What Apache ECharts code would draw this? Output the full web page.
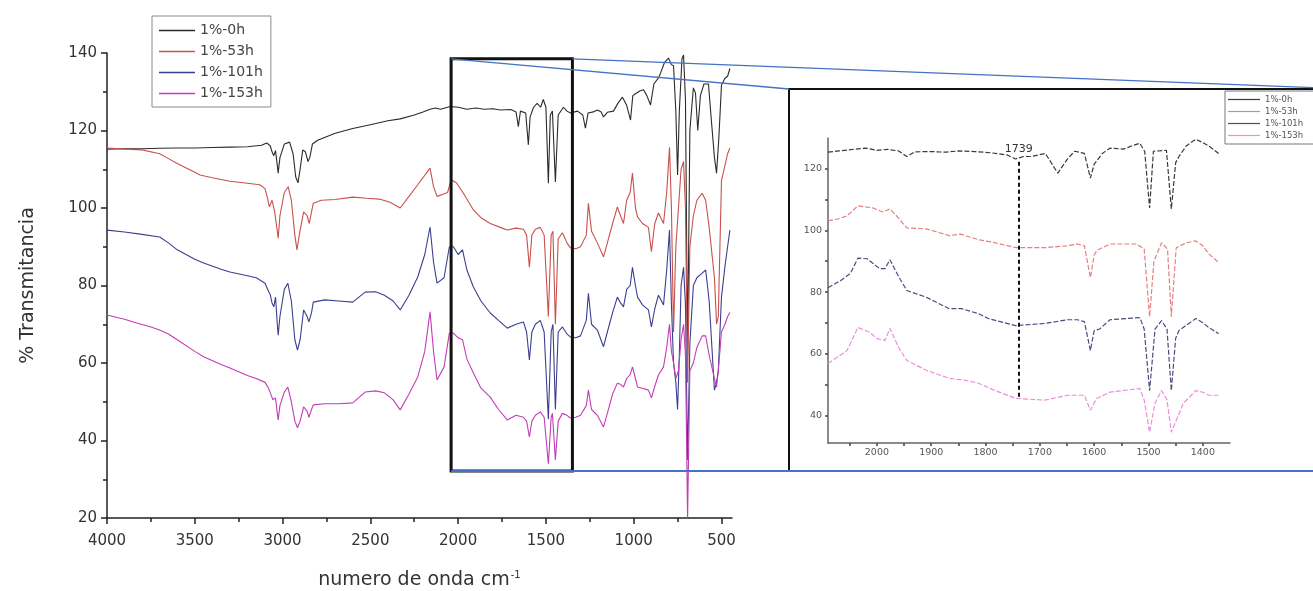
<!DOCTYPE html>
<html><head><meta charset="utf-8">
<script src="https://cdn.jsdelivr.net/npm/echarts@6/dist/echarts.min.js"></script>
<style>html,body{margin:0;padding:0;background:#fff}#c{width:1313px;height:591px}</style>
</head><body><div id="c"></div>
<script>
// ---------- DATA ----------
const SERIES_NAMES = ['1%-0h', '1%-53h', '1%-101h', '1%-153h'];
const MAIN_X_TICKS = [4000, 3500, 3000, 2500, 2000, 1500, 1000, 500];
const MAIN_X_MINOR = [3750, 3250, 2750, 2250, 1750, 1250, 750];
const INSET_X_LABELS = [2000, 1900, 1800, 1700, 1600, 1500, 1400];
const INSET_X_TICKS = [2050, 2000, 1950, 1900, 1850, 1800, 1750, 1700, 1650, 1600, 1550, 1500, 1450, 1400];
const INSET_Y_LABELS = [40, 60, 80, 100, 120];
const INSET_Y_TICKS = [40, 50, 60, 70, 80, 90, 100, 110, 120];
const ZOOM_X = [2040, 1349];      // region enlarged in inset (cm-1)
const ZOOM_Y = [32.1, 138.5];     // region enlarged in inset (% T)
const PEAK_1739 = [1739, 46, 123.2];

const main0h = [[4000,115.2],[3900,115.3],[3800,115.3],[3700,115.4],[3600,115.5],[3500,115.5],[3400,115.6],[3300,115.7],[3200,115.8],[3120,116.2],[3090,116.8],[3070,116.0],[3060,114.5],[3050,113.5],[3040,114.8],[3030,111],[3025,109],[3015,113],[2990,116.5],[2960,117],[2940,114],[2925,108],[2912,106.5],[2900,110],[2885,115],[2870,114.5],[2855,112],[2845,113],[2830,116.5],[2800,117.5],[2700,119.3],[2600,120.5],[2500,121.5],[2400,122.5],[2330,123],[2250,124],[2200,124.8],[2160,125.5],[2130,125.8],[2100,125.5],[2045,126.2],[2000,126],[1950,125.5],[1900,125.8],[1850,125.5],[1800,125.6],[1760,125.3],[1700,125.4],[1670,124.8],[1657,121],[1645,125],[1615,124.5],[1600,116.3],[1590,123.5],[1570,126],[1550,127],[1530,126],[1515,128],[1500,126],[1486,106.4],[1475,124],[1463,125],[1446,106.7],[1430,124],[1400,126],[1380,125],[1360,124.5],[1320,125],[1290,124],[1275,120.6],[1260,124.5],[1230,124.8],[1207,125.3],[1185,124.8],[1172,123.5],[1150,124.7],[1115,125],[1090,127],[1064,128.6],[1040,126.5],[1018,122.7],[1005,129],[990,129.5],[965,130.2],[944,130.5],[925,129],[904,126.6],[885,132],[860,133.5],[847,134.8],[825,137.5],[802,138.7],[785,137],[773,136.7],[760,125],[750,108.5],[740,125],[725,138.5],[716,139.5],[705,128],[693,62],[680,120],[660,131],[648,129.7],[635,120],[620,129],[600,132],[590,132.5],[574,132],[560,124],[540,113],[528,109],[515,118],[500,131.7],[480,133.5],[465,134],[452,136]];

const main53h = [[4000,115.5],[3900,115.2],[3800,115],[3700,114],[3660,113],[3600,111.5],[3500,109.2],[3470,108.5],[3400,107.8],[3300,106.9],[3200,106.4],[3130,106],[3100,105],[3088,103],[3075,100.3],[3060,102],[3045,99],[3030,94],[3025,92.2],[3015,98],[2990,104],[2968,105.5],[2950,102],[2930,93],[2918,89.2],[2905,93],[2880,99],[2860,98],[2848,96],[2835,99],[2825,101.2],[2780,102],[2700,102.2],[2600,102.8],[2520,102.5],[2450,102.3],[2387,101.5],[2330,100],[2280,103],[2230,106],[2160,110.3],[2140,105.5],[2120,103],[2090,103.5],[2060,104],[2040,107.3],[2010,106.5],[1970,103.8],[1913,99.5],[1870,97.5],[1817,96],[1760,95],[1720,94.3],[1670,94.8],[1628,94.5],[1610,93],[1594,84.7],[1580,93],[1560,94.5],[1532,95],[1510,93],[1486,72],[1470,93],[1460,94],[1446,70],[1430,92],[1406,93.6],[1380,91],[1360,89.7],[1330,89.5],[1303,90],[1270,93],[1258,101.2],[1240,94],[1207,91],[1172,87.4],[1150,91],[1120,96],[1093,100.3],[1075,98],[1058,96],[1040,102],[1020,104],[1007,109],[990,100],[978,97.7],[950,96],[916,95],[899,88.7],[880,96],[859,98.7],[830,96],[812,104],[796,115.7],[785,100],[773,68],[760,90],[745,100],[730,110],[716,112],[705,100],[693,55],[680,90],[660,98],[640,102],[610,103.8],[590,102],[570,95],[540,82],[528,70],[518,72],[500,107],[480,111],[465,114],[452,115.5]];

const main101h = [[4000,94.3],[3900,93.8],[3800,93.2],[3700,92.5],[3650,91],[3600,89.2],[3500,86.8],[3450,85.8],[3350,84.2],[3300,83.5],[3200,82.5],[3150,82],[3100,80.6],[3080,78.5],[3070,77.6],[3060,75.5],[3050,74.5],[3040,77],[3030,70],[3025,67.2],[3015,72],[2990,79],[2970,80.6],[2950,76],[2930,66],[2915,63.3],[2900,66],[2880,73.7],[2860,72],[2850,70.6],[2835,73],[2825,75.7],[2760,76.3],[2680,76],[2600,75.7],[2530,78.3],[2470,78.4],[2420,77.5],[2370,76],[2330,73.7],[2280,77.5],[2230,82.2],[2190,88],[2160,95.1],[2140,86],[2120,80.6],[2080,82],[2050,90],[2027,90],[2000,88],[1975,89.2],[1950,84],[1913,79.6],[1870,76],[1817,72.9],[1770,71],[1720,69],[1670,70],[1628,70.6],[1610,68],[1594,60.8],[1580,68],[1560,70],[1532,71],[1510,68],[1486,45.5],[1470,68],[1460,70],[1446,48],[1430,68],[1406,69.3],[1380,67.5],[1360,66.7],[1330,66.5],[1303,67],[1270,71],[1258,78],[1240,70],[1207,68.5],[1172,64.2],[1150,68],[1120,73],[1093,77],[1075,75.5],[1058,74.5],[1040,79],[1020,80],[1007,84.7],[990,80],[978,77],[950,75],[916,73.7],[899,69.3],[880,74],[859,77.5],[830,75],[812,84],[796,94.3],[785,75],[773,60],[760,55],[750,48],[740,62],[730,80],[716,84.7],[705,75],[693,35],[680,65],[660,80],[640,82],[610,83.2],[590,84],[570,76],[540,53],[528,55],[518,58],[500,77],[480,85],[465,90],[452,94.3]];

const main153h = [[4000,72.4],[3900,71.3],[3850,70.6],[3750,69.3],[3700,68.5],[3650,67.5],[3600,66],[3500,63],[3450,61.6],[3350,59.6],[3300,58.7],[3200,56.8],[3150,56],[3100,55],[3080,53.5],[3070,52.3],[3055,50.5],[3040,51],[3030,47],[3025,45.3],[3015,49],[2990,52.5],[2970,53.8],[2950,50],[2930,45],[2915,43.3],[2900,45],[2880,48.7],[2860,47.5],[2850,46],[2835,48],[2825,49.2],[2760,49.5],[2680,49.5],[2600,49.7],[2530,52.5],[2470,52.8],[2420,52.3],[2370,50.5],[2330,47.9],[2280,52],[2230,56.4],[2190,63],[2160,73.2],[2140,63],[2120,55.6],[2080,59],[2050,67.7],[2027,67.7],[2000,66.5],[1975,66],[1950,61],[1913,57.4],[1870,53.5],[1817,51.2],[1770,48],[1720,45.3],[1670,46.5],[1628,46],[1610,45],[1594,40.9],[1580,45],[1560,46.5],[1532,47.4],[1510,46],[1486,34],[1470,46],[1463,47],[1446,35],[1430,45],[1406,47],[1380,46.5],[1360,45.8],[1330,46],[1303,46.5],[1270,49],[1258,53],[1240,48],[1207,46.5],[1172,43.5],[1150,47],[1120,52],[1093,54.8],[1075,54.5],[1058,53.8],[1040,56],[1020,57],[1007,59],[990,56],[978,53.8],[950,53.5],[916,53],[899,51],[880,54],[859,56.9],[830,59],[812,64],[796,70],[785,63],[773,60],[760,56],[745,58],[730,66],[716,70],[705,62],[693,20],[680,58],[660,60],[640,64],[610,67],[590,67],[570,62],[540,56],[528,53.8],[518,58],[500,68],[480,70],[465,72],[452,73]];

const inset0h = [[2090,125.4],[2070,125.8],[2040,126.4],[2020,126.7],[2000,126],[1980,126.3],[1960,125.8],[1945,124],[1930,125.5],[1900,125.6],[1873,125.4],[1850,125.8],[1820,125.6],[1790,125.2],[1760,124.5],[1745,123.2],[1730,124],[1716,124],[1690,125],[1667,118.6],[1650,123],[1636,125.7],[1618,125],[1607,117],[1600,121.5],[1585,125],[1571,126.7],[1546,126.4],[1530,127.5],[1516,128.3],[1507,125.6],[1498,107.3],[1491,125.7],[1467,126],[1458,107],[1450,122],[1444,124],[1430,127.5],[1413,129.6],[1400,128.5],[1389,127.4],[1371,125]];
const inset53h = [[2090,103.1],[2070,103.8],[2055,104.7],[2035,108],[2007,107.3],[1989,106],[1976,107],[1960,104],[1945,100.8],[1909,100.5],[1867,98.3],[1846,98.8],[1813,97],[1782,96],[1744,94.4],[1691,94.4],[1650,95],[1631,95.6],[1618,95],[1607,84.7],[1600,92],[1595,93.5],[1571,95.6],[1522,95.6],[1508,94],[1498,72],[1490,90],[1476,96],[1465,94],[1458,72],[1449,94.4],[1430,96],[1413,96.6],[1400,95],[1389,92.4],[1371,89.6]];
const inset101h = [[2090,81.4],[2067,83.7],[2049,86],[2035,91],[2018,90.8],[1995,87.6],[1985,87.6],[1976,90.5],[1960,85],[1945,80.5],[1909,78.3],[1867,74.6],[1844,74.6],[1813,73],[1795,71.4],[1745,69.1],[1691,69.8],[1649,71],[1631,71],[1618,70.4],[1607,61],[1600,67.5],[1590,68],[1571,71],[1516,71.7],[1508,68],[1498,48],[1488,68],[1476,70.7],[1466,68],[1458,48],[1450,65],[1444,67.5],[1413,71.4],[1400,70],[1389,68.5],[1371,66.5]];
const inset153h = [[2090,56.8],[2055,61],[2035,68.5],[2013,66.9],[2000,64.9],[1985,64.3],[1976,68.2],[1960,62],[1945,57.8],[1909,54.6],[1867,52],[1836,51.3],[1813,50.4],[1782,48],[1745,45.5],[1691,44.9],[1649,46.5],[1618,46.5],[1607,41.6],[1600,44],[1595,45.5],[1571,47.5],[1516,48.7],[1508,45],[1498,34.5],[1488,44],[1476,48],[1466,45],[1458,34.5],[1445,40],[1436,43.9],[1413,48],[1400,47.5],[1389,46.5],[1371,46.5]];

// ---------- STYLE ----------
const MAIN_COLORS = ['#2b2b2b', '#c9504c', '#3b3f8e', '#c23cb8'];
const INSET_COLORS = ['#3a3a3a', '#e58080', '#4a4c7e', '#ea8fdc'];
const FONT = 'DejaVu Sans';
const INSET_FRAME = {x: 789, y: 89, w: 560, h: 382};
const plain = v => String(v);

const chart = echarts.init(document.getElementById('c'), null, {renderer: 'canvas'});

const mainData = [main0h, main53h, main101h, main153h];
const insetData = [inset0h, inset53h, inset101h, inset153h];

const series = [];
mainData.forEach((d, i) => series.push({
  name: SERIES_NAMES[i], type: 'line', xAxisIndex: 0, yAxisIndex: 0,
  data: d, symbol: 'none', smooth: false,
  lineStyle: {color: MAIN_COLORS[i], width: 1.1}, itemStyle: {color: MAIN_COLORS[i]},
  z: 3
}));
insetData.forEach((d, i) => series.push({
  name: SERIES_NAMES[i] + ' ', type: 'line', xAxisIndex: 2, yAxisIndex: 1,
  data: d, symbol: 'none',
  lineStyle: {color: INSET_COLORS[i], width: 1.2, type: [5, 2]}, itemStyle: {color: INSET_COLORS[i]},
  z: 3,
  markLine: i === 0 ? {
    silent: true, symbol: 'none',
    lineStyle: {color: '#111', width: 2, type: [4, 3]},
    label: {show: true, position: 'end', formatter: String(PEAK_1739[0]), color: '#333', fontSize: 11, fontFamily: FONT, distance: 4},
    data: [[{coord: [PEAK_1739[0], PEAK_1739[1]]}, {coord: [PEAK_1739[0], PEAK_1739[2]]}]]
  } : undefined
}));

const option = {
  animation: false,
  backgroundColor: '#fff',
  grid: [
    {left: 107, right: 581, top: 53, bottom: 73, containLabel: false, outerBoundsMode: 'none'},
    {left: 828, right: 83, top: 138, bottom: 148, containLabel: false, outerBoundsMode: 'none'}
  ],
  legend: [
    {
      data: SERIES_NAMES.map((n, i) => ({name: n, itemStyle: {color: MAIN_COLORS[i]}})),
      orient: 'vertical', left: 152, top: 16, icon: 'rect',
      padding: [7, 8, 6, 7], itemGap: 6, itemWidth: 36, itemHeight: 1.5,
      backgroundColor: '#fff', borderColor: '#8a8a8a', borderWidth: 1,
      textStyle: {fontFamily: FONT, fontSize: 14, color: '#444', lineHeight: 15},
      selectedMode: false
    },
    {
      data: SERIES_NAMES.map((n, i) => ({name: n + ' ', itemStyle: {color: INSET_COLORS[i]}})),
      orient: 'vertical', left: 1225, top: 91, icon: 'rect',
      padding: [4, 40, 4, 3], itemGap: 3, itemWidth: 32, itemHeight: 1.2,
      backgroundColor: '#fff', borderColor: '#777', borderWidth: 1,
      formatter: n => n.trim(),
      textStyle: {fontFamily: FONT, fontSize: 8.5, color: '#555', lineHeight: 9},
      selectedMode: false
    }
  ],
  xAxis: [
    {
      type: 'value', gridIndex: 0, min: 440, max: 4000, inverse: true, position: 'bottom',
      name: '{a|numero de onda cm}{s|-1}', nameLocation: 'middle', nameGap: 52,
      nameTextStyle: {rich: {a: {fontFamily: FONT, fontSize: 19, color: '#333'}, s: {fontFamily: FONT, fontSize: 10, color: '#333', verticalAlign: 'top', padding: [0, 0, 11, 1]}}},
      axisLine: {show: true, onZero: false, lineStyle: {color: '#222', width: 1.5}},
      axisTick: {show: true, customValues: MAIN_X_TICKS, length: 6, lineStyle: {color: '#222', width: 1.5}},
      axisLabel: {customValues: MAIN_X_TICKS, formatter: plain, fontFamily: FONT, fontSize: 15, color: '#333', margin: 16},
      splitLine: {show: false}
    },
    {
      type: 'value', gridIndex: 0, min: 440, max: 4000, inverse: true, position: 'bottom', offset: 0,
      axisLine: {show: false, onZero: false},
      axisTick: {show: true, customValues: MAIN_X_MINOR, length: 4, lineStyle: {color: '#222', width: 1.5}},
      axisLabel: {show: false}, splitLine: {show: false}
    },
    {
      type: 'value', gridIndex: 1, min: 1350, max: 2090, inverse: true, position: 'bottom',
      axisLine: {show: true, onZero: false, lineStyle: {color: '#666', width: 1.5}},
      axisTick: {show: true, customValues: INSET_X_TICKS, length: 3, lineStyle: {color: '#444', width: 1.5}},
      axisLabel: {customValues: INSET_X_LABELS, formatter: plain, fontFamily: FONT, fontSize: 9.5, color: '#555', margin: 5},
      splitLine: {show: false}
    }
  ],
  yAxis: [
    {
      type: 'value', gridIndex: 0, min: 20, max: 140, interval: 20,
      name: '% Transmitancia', nameLocation: 'middle', nameGap: 69, nameRotate: 90,
      nameTextStyle: {fontFamily: FONT, fontSize: 19, color: '#333'},
      axisLine: {show: true, onZero: false, lineStyle: {color: '#222', width: 1.5}},
      axisTick: {show: true, length: 6, lineStyle: {color: '#222', width: 1.5}},
      minorTick: {show: true, splitNumber: 2, length: 4, lineStyle: {color: '#222', width: 1.5}},
      axisLabel: {formatter: plain, fontFamily: FONT, fontSize: 15, color: '#333', margin: 10},
      splitLine: {show: false}, minorSplitLine: {show: false}
    },
    {
      type: 'value', gridIndex: 1, min: 31, max: 130,
      axisLine: {show: true, onZero: false, lineStyle: {color: '#666', width: 1.5}},
      axisTick: {show: true, customValues: INSET_Y_TICKS, length: 3, lineStyle: {color: '#444', width: 1.5}},
      axisLabel: {customValues: INSET_Y_LABELS, formatter: plain, fontFamily: FONT, fontSize: 9.5, color: '#555', margin: 6},
      splitLine: {show: false}
    }
  ],
  series: series
};
chart.setOption(option);

// zoom frame + connector lines, positioned through the main axes
const tl = chart.convertToPixel({xAxisIndex: 0, yAxisIndex: 0}, [ZOOM_X[0], ZOOM_Y[1]]);
const br = chart.convertToPixel({xAxisIndex: 0, yAxisIndex: 0}, [ZOOM_X[1], ZOOM_Y[0]]);
const F = INSET_FRAME;
const blue = '#4472c4';
chart.setOption({
  graphic: [
    {type: 'rect', z: 50, shape: {x: F.x, y: F.y, width: F.w, height: F.h}, style: {fill: null, stroke: '#111', lineWidth: 2}},
    {type: 'rect', z: 50, shape: {x: tl[0], y: tl[1], width: br[0] - tl[0], height: br[1] - tl[1]}, style: {fill: null, stroke: '#111', lineWidth: 3}},
    {type: 'line', z: 51, shape: {x1: tl[0], y1: tl[1], x2: F.x, y2: F.y}, style: {stroke: blue, lineWidth: 1.3}},
    {type: 'line', z: 51, shape: {x1: br[0], y1: tl[1], x2: F.x + F.w, y2: F.y}, style: {stroke: blue, lineWidth: 1.3}},
    {type: 'line', z: 51, shape: {x1: tl[0], y1: br[1], x2: F.x + F.w, y2: F.y + F.h}, style: {stroke: blue, lineWidth: 2}}
  ]
});
</script></body></html>
